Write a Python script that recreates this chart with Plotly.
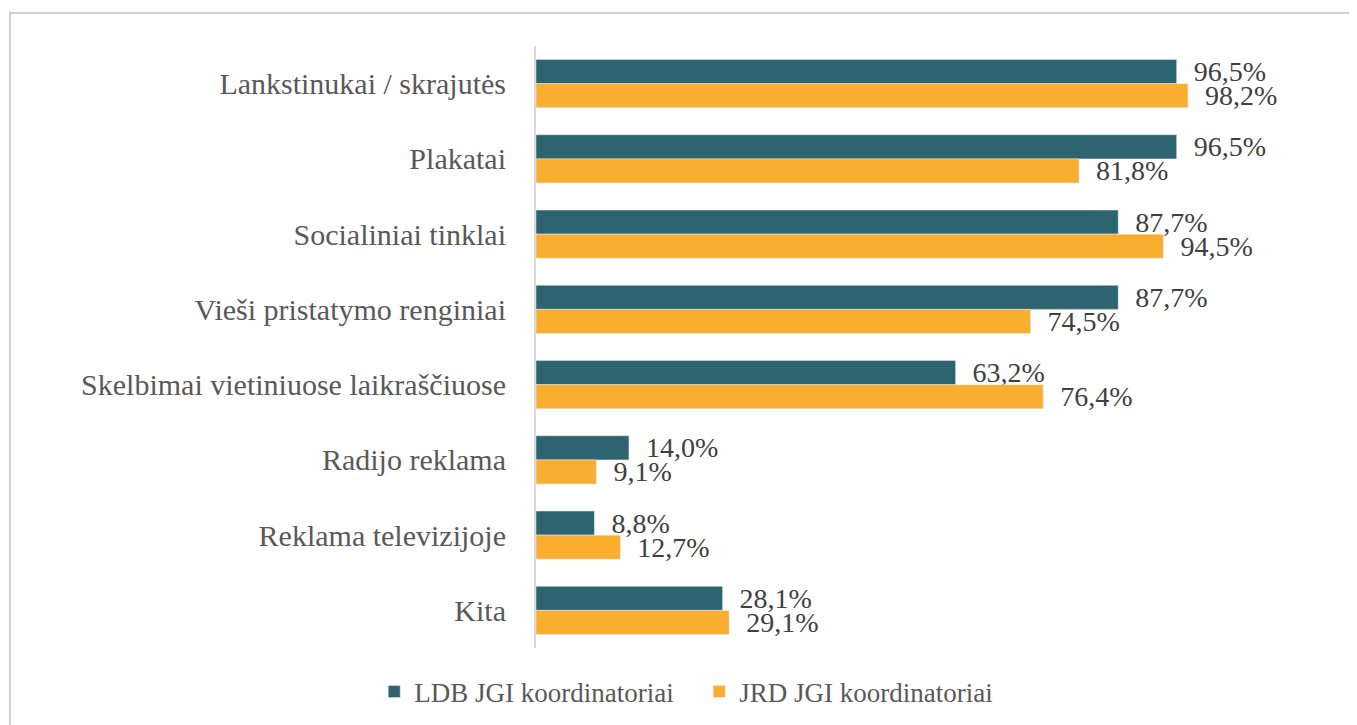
import plotly.graph_objects as go

categories = ['Lankstinukai / skrajutės', 'Plakatai', 'Socialiniai tinklai',
              'Vieši pristatymo renginiai', 'Skelbimai vietiniuose laikraščiuose',
              'Radijo reklama', 'Reklama televizijoje', 'Kita']
ldb = [96.5, 96.5, 87.7, 87.7, 63.2, 14.0, 8.8, 28.1]
jrd = [98.2, 81.8, 94.5, 74.5, 76.4, 9.1, 12.7, 29.1]
series_names = ['LDB JGI koordinatoriai', 'JRD JGI koordinatoriai']

teal = '#2e6370'
orange = '#f9ae30'
font_main = 'Liberation Serif'


def fmt(v):
    return ('  ' + f'{v:.1f}%').replace('.', ',')


fig = go.Figure()
fig.add_trace(go.Bar(y=categories, x=ldb, orientation='h', name=series_names[0],
                     marker=dict(color=teal), text=[fmt(v) for v in ldb],
                     textposition='outside', cliponaxis=False, constraintext='none',
                     textfont=dict(family=font_main, size=28, color='#404040')))
fig.add_trace(go.Bar(y=categories, x=jrd, orientation='h', name=series_names[1],
                     marker=dict(color=orange), text=[fmt(v) for v in jrd],
                     textposition='outside', cliponaxis=False, constraintext='none',
                     textfont=dict(family=font_main, size=28, color='#404040')))

fig.update_layout(
    width=1357, height=725,
    margin=dict(l=528, r=29, t=38, b=85),
    barmode='group', bargap=0.36, bargroupgap=0,
    plot_bgcolor='white', paper_bgcolor='white',
    font=dict(family=font_main, size=28, color='#595959'),
    xaxis=dict(range=[0, 120.5], visible=False, showgrid=False, zeroline=False),
    yaxis=dict(autorange='reversed', showline=True, linecolor='#d9d9d9', linewidth=2,
               ticks='', ticklabelstandoff=22, showgrid=False,
               tickfont=dict(family=font_main, size=30, color='#595959')),
    legend=dict(orientation='h', x=0.204, xanchor='center', y=-0.073, yanchor='middle',
                font=dict(family=font_main, size=27, color='#595959'),
                traceorder='normal', itemwidth=30, entrywidth=280),
    showlegend=True,
    shapes=[dict(type='rect', xref='paper', yref='paper',
                 x0=-0.6575, x1=1.0175, y0=-0.3, y1=1.0548,
                 line=dict(color='#d0d0d0', width=2), layer='below')],
)

fig.write_html('out.html')
